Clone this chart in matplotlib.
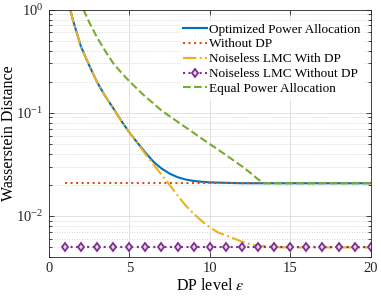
import numpy as np
import matplotlib
matplotlib.use("Agg")
import matplotlib.pyplot as plt
from matplotlib.ticker import LogLocator, NullFormatter, MultipleLocator

plt.rcParams["font.family"] = ["Liberation Serif", "DejaVu Serif"]
plt.rcParams["mathtext.fontset"] = "stix"

# (eps, Wasserstein distance)
eps_dp = [1.33, 1.5, 2.0, 2.5, 3.0, 3.5, 4.0, 4.5, 5.0, 5.5, 6.0, 6.5, 7.0, 7.5,
          8.0, 8.5, 9.0, 9.5, 10.0, 10.5, 11.0, 11.5, 12.0, 12.5, 13.0, 13.5,
          14.0, 14.5, 15.0, 16.0, 17.0, 18.0, 19.0, 20.0]
w_optimized = [1.0, 0.79, 0.437, 0.29, 0.198, 0.145, 0.111, 0.0836, 0.0646, 0.0513,
               0.0411, 0.0335, 0.0288, 0.0257, 0.0237, 0.0225, 0.0218, 0.0214,
               0.0211, 0.0210, 0.0209, 0.0208, 0.0207, 0.0207, 0.0207, 0.0207,
               0.0207, 0.0207, 0.0207, 0.0207, 0.0207, 0.0207, 0.0207, 0.0207]
w_noiseless_dp = [1.0, 0.79, 0.437, 0.29, 0.198, 0.145, 0.111, 0.0836, 0.0646, 0.0510,
                  0.0398, 0.0316, 0.0251, 0.0200, 0.0158, 0.0126, 0.0105, 0.00891,
                  0.00776, 0.00692, 0.00646, 0.00603, 0.00562, 0.00532, 0.00515,
                  0.00506, 0.00499, 0.00495, 0.00494, 0.00494, 0.00494, 0.00494,
                  0.00494, 0.00494]

eps_equal = [2.15, 2.5, 3.0, 3.5, 4.0, 4.5, 5.0, 5.5, 6.0, 6.5, 7.0, 7.5, 8.0, 8.5,
             9.0, 9.5, 10.0, 10.5, 11.0, 11.5, 12.0, 12.5, 13.0, 13.4, 14.0, 15.0,
             16.0, 17.0, 18.0, 19.0, 20.0]
w_equal = [1.0, 0.759, 0.537, 0.398, 0.302, 0.245, 0.202, 0.170, 0.143, 0.123,
           0.105, 0.0925, 0.0817, 0.0721, 0.0637, 0.0562, 0.0497, 0.0440, 0.0389,
           0.0343, 0.0302, 0.0263, 0.0226, 0.0207, 0.0207, 0.0207, 0.0207, 0.0207,
           0.0207, 0.0207, 0.0207]

eps_int = list(range(1, 21))
w_without_dp = [0.0207] * len(eps_int)
w_noiseless_no_dp = [0.00494] * len(eps_int)

BLUE = "#0072BD"
RED = "#D95319"
YELLOW = "#EDB120"
PURPLE = "#7E2F8E"
GREEN = "#77AC30"

fig = plt.figure(figsize=(3.81, 2.97), dpi=100)
ax = fig.add_axes([0.128, 0.135, 0.845, 0.833])

ax.plot(eps_dp, w_optimized, "-", color=BLUE, lw=1.5, label="Optimized Power Allocation")
ax.plot(eps_int, w_without_dp, ":", color=RED, lw=1.5, label="Without DP")
ax.plot(eps_dp, w_noiseless_dp, "-.", color=YELLOW, lw=1.5, label="Noiseless LMC With DP")
ax.plot(eps_int, w_noiseless_no_dp, ":", color=PURPLE, lw=1.5, marker="d", ms=4.5,
        mfc="#e8d8ec", mec=PURPLE, mew=1.3, label="Noiseless LMC Without DP")
ax.plot(eps_equal, w_equal, "--", color=GREEN, lw=1.5, label="Equal Power Allocation")

ax.set_yscale("log")
ax.set_xlim(0, 20)
ax.set_ylim(0.004, 1)
ax.xaxis.set_major_locator(MultipleLocator(5))
ax.yaxis.set_major_locator(LogLocator(base=10, numticks=10))
ax.yaxis.set_minor_locator(LogLocator(base=10, subs=np.arange(2, 10), numticks=20))
ax.yaxis.set_minor_formatter(NullFormatter())

ax.grid(True, which="major", color="#dcdcdc", lw=0.6, ls="-")
ax.grid(True, which="minor", axis="y", color="#c8c8c8", lw=0.6, ls=(0, (1, 2)))
ax.set_axisbelow(True)

for s in ax.spines.values():
    s.set_color("#262626")
    s.set_linewidth(0.6)
ax.tick_params(which="both", direction="in", top=True, right=True, colors="#262626",
               labelsize=10.5, width=0.6)
ax.tick_params(which="major", length=3.5, pad=4)
ax.tick_params(which="minor", length=2)

ax.set_xlabel(r"DP level $\epsilon$", fontsize=11.5, labelpad=2)
ax.set_ylabel("Wasserstein Distance", fontsize=11.5)
ax.yaxis.set_label_coords(-0.098, 0.5)

leg = ax.legend(loc="upper right", bbox_to_anchor=(0.975, 0.955), fontsize=9.5,
                handlelength=1.75, handletextpad=0.15, labelspacing=0.2,
                borderpad=0.2, frameon=True, fancybox=False, borderaxespad=0)
leg.get_frame().set_edgecolor("white")
leg.get_frame().set_facecolor("white")
leg.get_frame().set_alpha(1)

fig.savefig("out.png", dpi=100)
